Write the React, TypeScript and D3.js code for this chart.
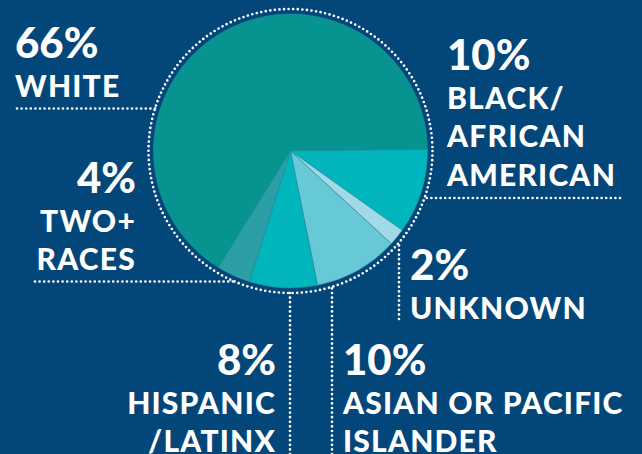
import React from 'react'
import * as d3 from 'd3'

// share of students by race / ethnicity (percent)
const categories = ['White', 'Black/African American', 'Unknown', 'Asian or Pacific Islander', 'Hispanic/Latinx', 'Two+ Races']
const values = [66, 10, 2, 10, 8, 4]
const sliceColors = ['#07938f', '#00b5bb', '#a2d9e6', '#67c8d6', '#00b5bb', '#2c9ea6']
const labelLines = [
    ['WHITE'],
    ['BLACK/', 'AFRICAN', 'AMERICAN'],
    ['UNKNOWN'],
    ['ASIAN OR PACIFIC', 'ISLANDER'],
    ['HISPANIC', '/LATINX'],
    ['TWO+', 'RACES'],
]

const W = 642
const H = 454
const BG = '#03467a'
const FONT = 'Lato, "Open Sans", sans-serif'

// where each label block sits and how its dotted leader runs
const labelLayout = [
    { x: 15, y: 58, anchor: 'start', leader: { kind: 'h', at: 108.5, from: 17 } },
    { x: 447, y: 70, anchor: 'start', leader: { kind: 'h', at: 198, from: 620 } },
    { x: 410, y: 280, anchor: 'start', leader: { kind: 'v', at: 399, from: 319 } },
    { x: 343, y: 375, anchor: 'start', leader: { kind: 'v', at: 332, from: H } },
    { x: 276, y: 375, anchor: 'end', leader: { kind: 'v', at: 290, from: H } },
    { x: 136, y: 193, anchor: 'end', leader: { kind: 'h', at: 281.5, from: 35 } },
]

export default function App() {
    const cx = 290.5
    const cy = 151
    const r = 137
    const ring = 142
    const start = -148.2 * Math.PI / 180

    const pie = d3.pie<number>().sort(null).startAngle(start).endAngle(start + 2 * Math.PI)(values)
    const arc = d3.arc<d3.PieArcDatum<number>>().innerRadius(0).outerRadius(r)

    const dotted = { stroke: '#fff', strokeWidth: 2.7, strokeLinecap: 'round' as const, strokeDasharray: '0 4.6', fill: 'none' }

    const leader = (l: { kind: string, at: number, from: number }, i: number) => {
        if (l.kind === 'h') {
            const dy = l.at - cy
            const dx = Math.sqrt(ring * ring - dy * dy)
            const xEnd = l.from < cx ? cx - dx : cx + dx
            return <line key={i} x1={l.from} y1={l.at} x2={xEnd} y2={l.at} {...dotted} />
        }
        const dx = l.at - cx
        const dy = Math.sqrt(ring * ring - dx * dx)
        return <line key={i} x1={l.at} y1={l.from} x2={l.at} y2={cy + dy} {...dotted} />
    }

    return (
        <svg width={W} height={H} style={{ position: 'fixed', left: 0, top: 0, display: 'block' }}>
            <rect width={W} height={H} fill={BG} />
            <g transform={`translate(${cx}, ${cy})`}>
                {pie.map((slice, i) => (
                    <path key={categories[i]} d={arc(slice) || ''} fill={sliceColors[i]} stroke="#2a8fa0" strokeWidth={0.5} />
                ))}
                <circle r={ring} {...dotted} />
            </g>
            {labelLayout.map((l, i) => leader(l.leader, i))}
            {labelLayout.map((l, i) => (
                <text key={categories[i]} x={l.x} y={l.y} textAnchor={l.anchor} fill="#fff" fontFamily={FONT} fontWeight={900}>
                    <tspan x={l.x} fontSize={42}>{values[i]}%</tspan>
                    {labelLines[i].map((t, j) => (
                        <tspan key={j} x={l.x} dy={38.5} fontSize={30} letterSpacing={1.2}>{t}</tspan>
                    ))}
                </text>
            ))}
        </svg>
    )
}
